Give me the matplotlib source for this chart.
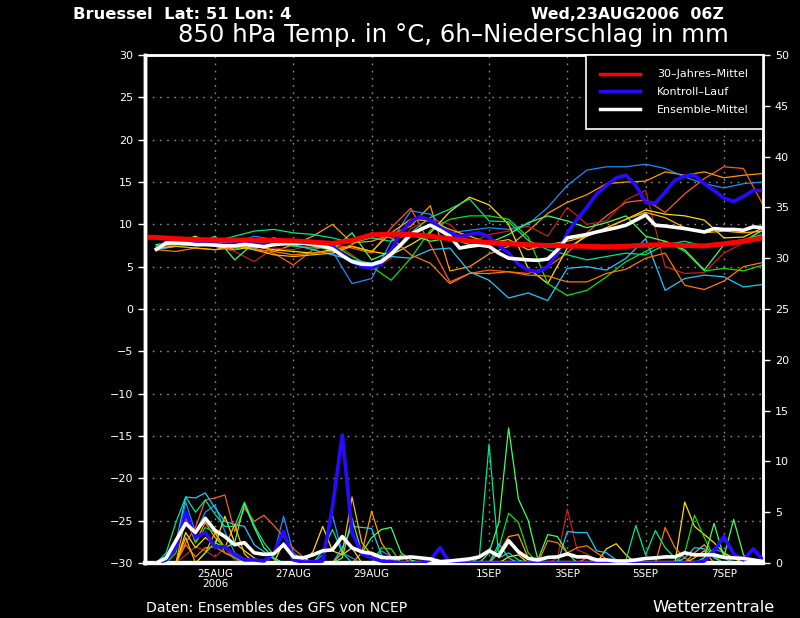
import matplotlib
matplotlib.use("Agg")
import matplotlib.pyplot as plt
from matplotlib.lines import Line2D
import numpy as np

# time axis: days since 23AUG2006 00Z
STEPS_6H = 0.5 + 0.25 * np.arange(63)
STEPS_12H = 0.5 + 0.5 * np.arange(32)
CLIM_DAYS = 0.5 * np.arange(33)

TICK_DAYS = [2, 4, 6, 9, 11, 13, 15]
TICK_LABELS = ["25AUG\n2006", "27AUG", "29AUG", "1SEP", "3SEP", "5SEP", "7SEP"]

# 30-year climatology (12h)
clim_temp = [8.5, 8.45, 8.3, 8.2, 8.15, 8.15, 8.15, 8.1, 8.05, 7.9, 7.75, 8.1, 8.75,
             8.85, 8.8, 8.6, 8.3, 8.05, 7.85, 7.7, 7.6, 7.5, 7.45, 7.4, 7.35, 7.4,
             7.55, 7.6, 7.5, 7.45, 7.7, 8.0, 8.4]

# control run and ensemble mean (6h)
ctrl_temp = [7.1, 7.9, 7.9, 7.8, 7.7, 7.7, 7.7, 7.6, 7.7, 7.8, 7.7, 7.6, 7.8, 7.9, 7.9,
             8.0, 7.95, 7.9, 7.4, 6.5, 5.6, 5.0, 4.9, 5.3, 7.0, 9.0, 10.4, 10.9, 10.5,
             9.6, 9.0, 8.55, 8.8, 9.0, 8.5, 7.5, 6.6, 5.3, 4.6, 4.4, 5.0, 6.6, 9.0, 10.6,
             12.0, 13.6, 14.6, 15.5, 15.8, 14.6, 12.6, 12.5, 13.8, 15.2, 15.7, 15.8,
             14.8, 14.0, 13.1, 12.7, 13.3, 14.0, 14.0]
mean_temp = [7.05, 7.8, 7.8, 7.75, 7.6, 7.6, 7.55, 7.45, 7.45, 7.65, 7.5, 7.35, 7.6,
             7.7, 7.75, 7.75, 7.7, 7.45, 7.1, 6.3, 5.6, 5.3, 5.25, 5.6, 6.5, 7.6, 8.8,
             9.4, 9.9, 9.3, 8.6, 7.2, 7.4, 7.55, 7.4, 6.6, 6.0, 5.9, 5.8, 5.75, 5.9, 7.0,
             8.4, 8.6, 8.8, 9.1, 9.35, 9.6, 9.9, 10.5, 11.1, 9.9, 9.8, 9.65, 9.5, 9.3,
             9.1, 9.5, 9.4, 9.4, 9.3, 9.7, 9.6]
ctrl_prec = ([0.0, 0.3, 1.5, 5.0, 2.5, 3.0, 1.6, 1.6, 0.8, 0.3, 0.3, 0.2, 1.0, 3.1, 0.3,
              0.1, 0.1, 0.2, 5.5, 12.6, 3.0, 0.9, 0.5, 0.2, 0.1, 0.0, 0.0, 0.0, 0.3, 1.5]
             + [0.0] * 26
             + [0.2, 1.2, 2.6, 0.9, 0.3, 1.4, 0.3])
mean_prec = [0.0, 0.5, 2.2, 3.9, 3.0, 4.4, 3.2, 2.6, 1.8, 2.0, 1.0, 0.85, 0.9, 1.8, 0.6,
             0.5, 0.8, 1.2, 1.3, 2.6, 1.5, 1.1, 0.95, 0.55, 0.5, 0.5, 0.6, 0.5, 0.4,
             0.14, 0.2, 0.3, 0.4, 0.6, 1.2, 0.7, 2.2, 1.1, 0.45, 0.3, 0.55, 0.6, 0.9,
             0.6, 0.6, 0.3, 0.3, 0.2, 0.2, 0.3, 0.45, 0.5, 0.6, 0.6, 1.0, 0.8, 0.8, 0.8,
             0.55, 0.5, 0.45, 0.3, 0.15]

# ensemble members: temperature (12h), precipitation (6h step index -> mm)
t_orange = [7.2, 8.0, 8.4, 7.6, 7.4, 7.0, 6.8, 7.6, 8.6, 10.0, 7.8, 8.0, 8.8, 9.8, 12.2,
            4.5, 5.0, 6.5, 7.4, 9.2, 11.3, 12.6, 13.5, 14.8, 15.0, 15.1, 16.2, 15.8,
            16.2, 15.5, 15.8, 16.0]
t_skyblue = [7.4, 7.8, 7.8, 8.0, 7.8, 8.6, 8.2, 8.0, 7.6, 6.8, 3.0, 3.6, 8.0, 11.6, 11.2,
             9.0, 9.3, 9.6, 9.4, 10.0, 12.0, 14.6, 16.4, 16.8, 16.8, 17.1, 16.6, 15.6,
             14.8, 14.3, 14.8, 15.0]
t_orangered = [7.0, 7.6, 8.2, 7.8, 7.6, 7.2, 6.6, 5.2, 7.0, 7.6, 7.2, 6.6, 9.6, 11.9, 7.6,
               3.2, 4.2, 4.6, 4.4, 4.2, 5.0, 6.6, 9.0, 11.0, 12.6, 12.9, 11.4, 13.6, 15.4,
               16.8, 16.6, 12.3]
t_darkred = [7.2, 7.6, 8.0, 7.4, 6.8, 5.6, 7.2, 7.0, 7.6, 7.8, 6.4, 4.6, 6.0, 9.5, 10.6,
             10.0, 7.8, 8.8, 9.2, 9.8, 8.6, 12.0, 10.0, 10.4, 12.9, 14.0, 5.0, 4.2, 4.3,
             6.6, 7.8, 9.5]
t_yellow = [7.4, 7.8, 8.6, 7.4, 7.0, 7.4, 7.0, 6.8, 6.6, 7.0, 7.4, 6.8, 6.4, 7.6, 9.0,
            11.5, 13.2, 12.3, 10.0, 4.8, 3.0, 7.2, 8.6, 9.6, 10.6, 11.7, 11.2, 11.0, 10.5,
            8.4, 8.5, 9.6]
t_mint = [7.6, 8.0, 8.2, 8.0, 8.6, 9.2, 9.4, 9.0, 8.8, 8.4, 7.8, 8.4, 8.0, 9.0, 10.8,
          11.8, 13.0, 10.4, 10.3, 8.1, 7.0, 6.4, 5.8, 6.2, 6.6, 6.4, 7.6, 8.0, 7.4, 7.8,
          8.2, 8.8]
t_lime = [7.4, 7.6, 8.4, 8.2, 7.0, 7.8, 8.0, 7.4, 7.2, 7.6, 6.2, 5.0, 3.4, 6.0, 9.3, 10.6,
          11.0, 11.0, 10.6, 8.5, 3.0, 1.6, 2.2, 3.8, 5.6, 6.8, 8.0, 6.8, 4.5, 4.8, 4.5, 5.2]
t_cyan = [7.0, 7.4, 7.6, 8.0, 7.6, 7.2, 7.8, 7.6, 7.0, 6.4, 5.8, 5.4, 6.2, 6.0, 7.0, 7.2,
          4.4, 3.4, 1.3, 1.9, 1.0, 4.8, 5.0, 4.6, 6.0, 8.3, 2.2, 3.6, 4.0, 3.8, 2.6, 2.9]
t_green = [7.6, 7.8, 7.6, 8.6, 5.8, 7.8, 8.4, 8.0, 7.4, 7.0, 9.0, 5.8, 6.8, 8.8, 8.0, 8.4,
           7.6, 7.8, 8.8, 10.2, 11.0, 10.4, 9.6, 10.2, 11.0, 8.6, 8.0, 7.0, 4.6, 7.6, 8.0,
           9.3]
t_darkorange = [7.0, 6.8, 7.2, 7.0, 7.2, 7.6, 6.8, 6.4, 6.6, 6.8, 7.6, 9.0, 8.4, 6.4, 5.4,
                3.0, 4.2, 4.2, 4.4, 4.0, 3.9, 3.2, 3.2, 4.2, 4.7, 6.0, 6.6, 2.8, 2.3, 3.3,
                5.0, 5.5]
t_gold = [7.2, 7.4, 7.2, 7.0, 7.6, 7.0, 6.4, 6.2, 6.4, 6.6, 7.4, 6.8, 9.0, 10.6, 10.4, 9.4,
          8.6, 7.8, 8.2, 7.0, 7.6, 8.0, 8.6, 9.6, 10.6, 11.4, 10.8, 9.6, 9.0, 9.2, 9.0, 9.2]

p_orange = {3: 4.5, 4: 2.0, 5: 4.0, 6: 2.5, 7: 1.5, 8: 0.6, 21: 1.0, 22: 5.1, 23: 2.0,
            24: 0.6, 35: 1.0, 36: 2.6, 37: 2.8, 38: 0.5, 55: 1.0, 56: 1.8, 57: 0.6}
p_skyblue = {2: 1.5, 3: 6.0, 4: 3.0, 5: 5.0, 6: 5.7, 7: 3.1, 8: 1.0, 9: 0.4, 12: 0.8,
             13: 4.6, 14: 1.0, 15: 0.3, 17: 0.8, 18: 4.7, 19: 1.0, 20: 0.5, 23: 1.2,
             24: 0.6, 56: 0.5, 57: 1.4, 58: 1.0}
p_orangered = {3: 2.0, 4: 3.5, 5: 6.2, 6: 6.4, 7: 6.7, 8: 3.1, 9: 5.4, 10: 4.1, 11: 4.7,
               12: 3.7, 13: 2.6, 14: 1.4, 15: 0.6, 44: 0.5}
p_darkred = {3: 0.8, 4: 1.6, 5: 1.2, 6: 0.6, 7: 1.5, 8: 0.3, 41: 0.5, 42: 5.3, 43: 1.3,
             44: 0.9, 45: 0.3}
p_yellow = {3: 3.0, 4: 1.5, 5: 2.5, 6: 1.8, 7: 4.6, 8: 2.0, 9: 1.2, 10: 0.5, 13: 2.0,
            14: 0.6, 16: 1.1, 17: 3.6, 18: 1.2, 19: 0.8, 20: 1.5, 36: 0.6, 37: 0.8,
            46: 1.4, 47: 1.9, 48: 0.8, 54: 6.0, 55: 3.6, 56: 2.8, 57: 2.0, 58: 1.0, 59: 0.5}
p_mint = {1: 1.0, 2: 4.0, 3: 6.5, 4: 5.0, 5: 6.2, 6: 4.8, 7: 3.6, 8: 3.6, 9: 6.0, 10: 3.7,
          11: 2.0, 12: 0.8, 13: 2.0, 14: 0.5, 17: 1.2, 18: 3.3, 19: 1.0, 33: 0.5,
          34: 11.7, 35: 0.5, 36: 1.0, 37: 0.3, 48: 0.3, 49: 3.7, 50: 0.8, 51: 3.2,
          52: 1.5, 53: 0.5}
p_lime = {2: 1.0, 3: 5.0, 4: 2.0, 5: 3.5, 6: 3.0, 7: 1.0, 8: 0.5, 23: 1.5, 24: 1.4,
          35: 1.5, 36: 4.9, 37: 4.0, 38: 1.0, 54: 1.0, 55: 4.7, 56: 2.5, 57: 0.5, 58: 0.5}
p_cyan = {2: 2.0, 3: 6.5, 4: 6.4, 5: 6.9, 6: 5.4, 7: 4.1, 8: 3.8, 9: 3.6, 10: 1.8, 11: 1.1,
          12: 0.4, 19: 1.5, 20: 3.6, 21: 3.5, 22: 3.4, 23: 0.8, 35: 1.9, 36: 0.5, 42: 3.1,
          43: 3.0, 44: 3.0, 45: 1.2, 46: 1.0, 47: 0.3, 54: 0.5, 55: 1.5, 56: 1.4, 57: 0.5}
p_green = {5: 1.0, 6: 2.0, 7: 1.5, 8: 2.0, 9: 5.8, 10: 3.5, 11: 1.5, 12: 0.5, 19: 0.5,
           20: 4.4, 21: 1.0, 22: 2.5, 23: 3.3, 24: 3.5, 25: 1.0, 26: 0.3, 34: 1.0, 35: 4.0,
           36: 13.3, 37: 6.3, 38: 4.2, 39: 0.3, 40: 2.8, 41: 2.6, 42: 1.0, 56: 0.5,
           57: 3.9, 58: 0.6, 59: 4.3, 60: 0.8}
p_darkorange = {3: 1.8, 4: 0.6, 5: 1.5, 6: 1.6, 7: 1.0, 8: 0.6, 9: 0.4, 25: 0.8, 40: 2.2,
                41: 2.0, 42: 1.0, 43: 1.5, 44: 1.7, 45: 1.0, 46: 0.4, 52: 3.5, 53: 1.5,
                54: 0.5}
p_gold = {3: 2.5, 5: 1.0, 6: 3.0, 7: 1.5, 8: 3.8, 9: 0.9, 19: 1.0, 20: 6.5, 21: 2.0,
          22: 0.8, 28: 0.3, 55: 0.5, 56: 1.2}

MEMBERS = [
    ("#ff9900", t_orange, p_orange),
    ("#1e8cff", t_skyblue, p_skyblue),
    ("#ff5a1e", t_orangered, p_orangered),
    ("#c02020", t_darkred, p_darkred),
    ("#ffdc00", t_yellow, p_yellow),
    ("#00e68c", t_mint, p_mint),
    ("#10e010", t_lime, p_lime),
    ("#1ec8ff", t_cyan, p_cyan),
    ("#40ff60", t_green, p_green),
    ("#ff7800", t_darkorange, p_darkorange),
    ("#ffb400", t_gold, p_gold),
]

CLIM_COLOR = "#ff0000"
CTRL_COLOR = "#2a0aff"
MEAN_COLOR = "#ffffff"


def main():
    fig = plt.figure(figsize=(8, 6.18), dpi=100, facecolor="black")
    ax = fig.add_axes([145 / 800, 1 - 563 / 618, 618 / 800, 508 / 618])
    ax.set_facecolor("black")
    ax2 = ax.twinx()

    for color, temps, prec in MEMBERS:
        ax.plot(STEPS_12H, temps, color=color, lw=0.9, zorder=2)
        series = np.zeros(len(STEPS_6H))
        for idx, val in prec.items():
            series[idx] = val
        ax2.plot(STEPS_6H, series, color=color, lw=0.9, zorder=2)

    ax.plot(STEPS_6H, ctrl_temp, color=CTRL_COLOR, lw=2.6, zorder=3)
    ax.plot(STEPS_6H, mean_temp, color=MEAN_COLOR, lw=2.6, zorder=4)
    ax.plot(CLIM_DAYS, clim_temp, color=CLIM_COLOR, lw=3.6, zorder=5)
    ax2.plot(STEPS_6H, ctrl_prec, color=CTRL_COLOR, lw=2.6, zorder=3)
    ax2.plot(STEPS_6H, mean_prec, color=MEAN_COLOR, lw=2.6, zorder=4)

    ax.set_xlim(0.21, 16.0)
    ax.set_ylim(-30, 30)
    ax2.set_ylim(0, 50)

    ax.set_yticks(range(-30, 31, 5))
    ax2.set_yticks(range(0, 51, 5))
    ax.set_xticks(TICK_DAYS)
    ax.set_xticklabels(TICK_LABELS, linespacing=1.0)

    ax.tick_params(axis="y", colors="white", labelsize=8, length=5, width=1)
    ax2.tick_params(axis="y", colors="white", labelsize=8, length=5, width=1)
    ax.tick_params(axis="x", colors="white", labelsize=7.5, length=0, pad=4)

    ax.grid(True, color="#8c8c8c", linestyle=(0, (1.2, 4)), linewidth=1)

    for a in (ax, ax2):
        for side in ("top", "right", "left", "bottom"):
            a.spines[side].set_color("white")
        a.spines["top"].set_linewidth(1.8)
        a.spines["right"].set_linewidth(1.8)
        a.spines["left"].set_linewidth(2.5)
        a.spines["bottom"].set_linewidth(3)

    handles = [
        Line2D([], [], color=CLIM_COLOR, lw=2.5),
        Line2D([], [], color=CTRL_COLOR, lw=2.5),
        Line2D([], [], color=MEAN_COLOR, lw=2.5),
    ]
    leg = ax2.legend(
        handles,
        ["30–Jahres–Mittel", "Kontroll–Lauf", "Ensemble–Mittel"],
        loc="upper right",
        borderaxespad=0,
        fontsize=8,
        handlelength=3.6,
        handletextpad=1.5,
        labelspacing=0.7,
        borderpad=1.3,
        fancybox=False,
        facecolor="black",
        edgecolor="white",
        framealpha=1,
        labelcolor="white",
    )
    leg.get_frame().set_linewidth(1.2)
    leg.set_zorder(10)

    fig.text(73 / 800, 1 - 19 / 618, "Bruessel  Lat: 51 Lon: 4", color="white",
             fontsize=11.8, fontweight="bold", va="baseline", ha="left")
    fig.text(724 / 800, 1 - 19 / 618, "Wed,23AUG2006  06Z", color="white",
             fontsize=11.3, fontweight="bold", va="baseline", ha="right")
    fig.text(453 / 800, 1 - 42 / 618, "850 hPa Temp. in °C, 6h–Niederschlag in mm",
             color="white", fontsize=17.6, va="baseline", ha="center")
    fig.text(146 / 800, 1 - 612 / 618, "Daten: Ensembles des GFS von NCEP",
             color="white", fontsize=10.1, va="baseline", ha="left")
    fig.text(775 / 800, 1 - 612 / 618, "Wetterzentrale", color="white",
             fontsize=11.8, va="baseline", ha="right")

    fig.savefig("out.png", dpi=100, facecolor="black")
    plt.close(fig)


if __name__ == "__main__":
    main()
